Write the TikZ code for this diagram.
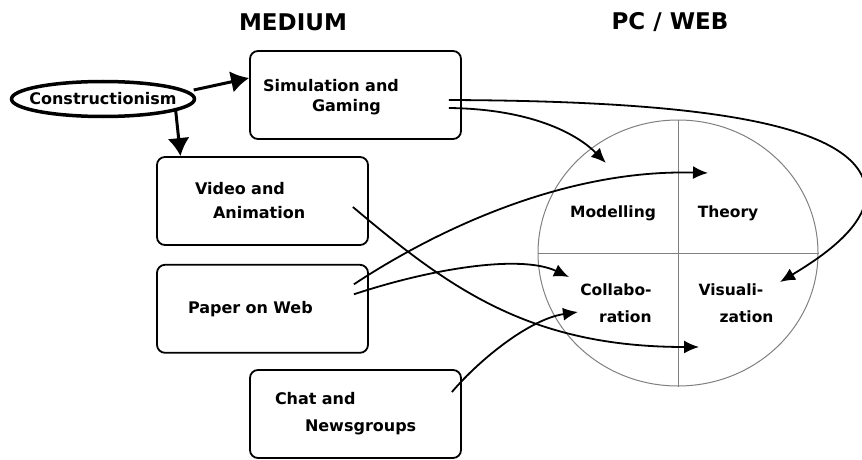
\documentclass[tikz,border=0pt]{standalone}
\usepackage{fontspec}
\setmainfont{DejaVu Sans}
\usetikzlibrary{arrows.meta, positioning, shapes.geometric}

\begin{document}
\begin{tikzpicture}[x=1pt,y=1pt,
    font=\bfseries\fontsize{16pt}{24pt}\selectfont,
    box/.style={draw,rounded corners=8pt,line width=1.8pt,minimum height=88pt,text width=191pt,inner xsep=10pt,align=left},
    part/.style={font=\bfseries\fontsize{15.5pt}{27pt}\selectfont},
    title/.style={font=\bfseries\fontsize{23pt}{27pt}\selectfont},
    link/.style={line width=1.8pt,-{Latex[length=15pt,width=13pt]}},
    main/.style={line width=3pt,-{Latex[length=18pt,width=22pt]}}]
  \useasboundingbox (0,0) rectangle (862,459);

  \node[title] (medium) at (293,437) {MEDIUM};
  \node[title] (pcweb)  at (670,437) {PC / WEB};

  \node[minimum width=183pt,minimum height=35pt,inner sep=0pt] (cons) at (103,360) {Constructionism};
  \draw[line width=3.5pt] (cons.center) ellipse (91.5pt and 17.5pt);

  \node[box,text height=16pt] (sim) at (355.5,364) {\hspace*{3pt}Simulation and\\[-4pt]\hspace*{52pt}Gaming};
  \node[box] (vid)   at (262.5,258) {\hspace*{28pt}Video and\\\hspace*{46pt}Animation};
  \node[box] (paper) [below=18pt of vid] {\hspace*{21pt}Paper on Web};
  \node[box] (chat)  at (355.5,45) {\hspace*{15pt}Chat and\\[3pt]\hspace*{45pt}Newsgroups};

  \node[draw=gray,ellipse,line width=1pt,minimum width=280pt,minimum height=266pt,inner sep=0pt] (pc) at (678,206) {};
  \draw[gray,line width=1pt] (pc.west) -- (pc.east) (pc.north) -- (pc.south);

  \node[part] (model)  at (613,246) {Modelling};
  \node[part] (theory) at (728,246) {Theory};
  \node[part,align=right] (collab) at (616,156) {Collabo-\\ration};
  \node[part,align=left]  (visual) at (736,156) {Visuali-\\\hspace*{21pt}zation};

  \coordinate (tipM)  at (606,296);
  \coordinate (tipT)  at (708,286);
  \coordinate (tipC1) at (569,182);
  \coordinate (tipC2) at (578,147);
  \coordinate (tipV)  at (780,177);
  \coordinate (tipB)  at (699,112);

  \draw[main] ([xshift=-1pt,yshift=9pt]cons.east) -- ([yshift=17pt]sim.west);
  \draw[main] ([xshift=-19pt,yshift=6pt]cons.south east) -- ([xshift=-82pt]vid.north);

  \draw[link] ([xshift=-13pt,yshift=-5pt]sim.east) .. controls (680,358) and (866,340) .. (866,265)
                                                   .. controls (866,230) and (815,198) .. (tipV);
  \draw[link] ([xshift=-13pt,yshift=-13pt]sim.east) .. controls (530,350) and (576,326) .. (tipM);
  \draw[link] ([xshift=-16pt,yshift=-6pt]vid.east) .. controls (450,170) and (530,112) .. (tipB);
  \draw[link] ([xshift=-15pt,yshift=24.5pt]paper.east) .. controls (430,225) and (560,290) .. (tipT);
  \draw[link] ([xshift=-15pt,yshift=14.5pt]paper.east) .. controls (430,190) and (520,205) .. (tipC1);
  \draw[link] ([xshift=-10pt,yshift=22pt]chat.east) .. controls (480,100) and (530,140) .. (tipC2);
\end{tikzpicture}
\end{document}
